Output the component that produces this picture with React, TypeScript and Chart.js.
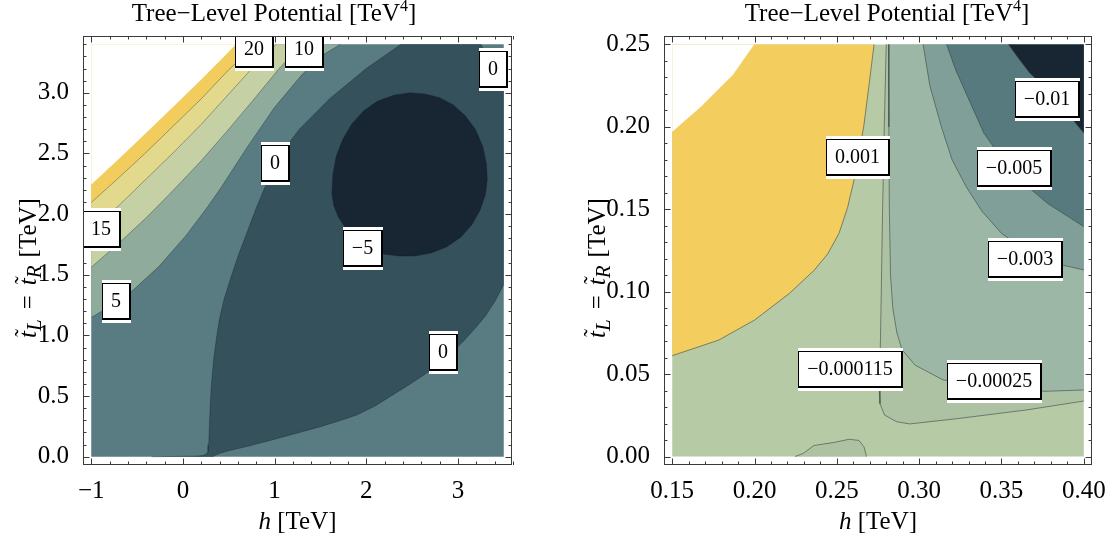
import React, { useEffect, useRef } from 'react';
import { Chart, registerables } from 'chart.js';

Chart.register(...registerables);

type P = [number, number];

const SERIF = '"Liberation Serif", "Times New Roman", serif';

// ---------------- LEFT PANEL DATA (h in TeV, t in TeV) ----------------
const L_X_TICKS = [-1, 0, 1, 2, 3];
const L_X_LABELS = ['\u22121', '0', '1', '2', '3'];
const L_Y_TICKS = [0, 0.5, 1, 1.5, 2, 2.5, 3];
const L_Y_LABELS = ['0.0', '0.5', '1.0', '1.5', '2.0', '2.5', '3.0'];

const L_RECT: P[] = [[-1, 0], [3.5, 0], [3.5, 3.4], [-1, 3.4]];
const L_C25: P[] = [[-1, 2.244], [-0.7, 2.455], [-0.4, 2.67], [-0.1, 2.89], [0.2, 3.11], [0.45, 3.3], [0.578, 3.4]];
const L_C20: P[] = [[-1, 2.095], [-0.7, 2.3], [-0.4, 2.51], [-0.1, 2.73], [0.2, 2.95], [0.5, 3.19], [0.8, 3.4]];
const L_C15: P[] = [[-1, 1.87], [-0.7, 2.07], [-0.4, 2.29], [-0.1, 2.51], [0.2, 2.74], [0.5, 2.99], [0.8, 3.24], [1.02, 3.4]];
const L_C10: P[] = [[-1, 1.562], [-0.7, 1.76], [-0.4, 1.97], [-0.1, 2.2], [0.2, 2.44], [0.5, 2.7], [0.8, 2.97], [1.05, 3.2], [1.3, 3.4]];
const L_C5: P[] = [[-1, 1.147], [-0.62, 1.32], [-0.26, 1.57], [0.03, 1.82], [0.25, 2.04], [0.4, 2.2], [0.7, 2.55], [1.0, 2.88], [1.3, 3.15], [1.5, 3.3], [1.72, 3.4]];
const L_C0_UPPER: P[] = [[2.38, 3.4], [2.0, 3.2], [1.6, 2.95], [1.27, 2.7], [1.12, 2.55], [1.01, 2.41], [0.9, 2.23], [0.8, 2.05], [0.7, 1.85], [0.6, 1.65], [0.52, 1.47], [0.45, 1.3], [0.4, 1.14], [0.37, 1.0], [0.335, 0.8], [0.312, 0.6], [0.298, 0.42], [0.289, 0.25], [0.282, 0.1], [0.274, 0.045], [0.257, 0.022], [0.22, 0.011], [0.15, 0.005], [-0.34, 0]];
const L_C0_LOWER: P[] = [[0.32, 0], [0.4, 0.028], [0.5, 0.05], [0.727, 0.09], [0.98, 0.14], [1.27, 0.2], [1.508, 0.25], [1.7, 0.295], [1.898, 0.345], [2.1, 0.42], [2.289, 0.51], [2.48, 0.6], [2.68, 0.7], [2.88, 0.82], [3.07, 0.96], [3.2, 1.07], [3.3, 1.16], [3.41, 1.29], [3.5, 1.42]];
const L_C0_CORNER: P[] = [[3.5, 3.02], [3.42, 3.15], [3.33, 3.28], [3.25, 3.4]];
const L_CM5: P[] = [[1.625, 2.17], [1.635, 2.32], [1.67, 2.47], [1.74, 2.61], [1.84, 2.74], [1.97, 2.85], [2.12, 2.93], [2.3, 2.98], [2.48, 3.0], [2.64, 2.99], [2.8, 2.96], [2.95, 2.9], [3.08, 2.81], [3.19, 2.7], [3.27, 2.56], [3.31, 2.42], [3.32, 2.29], [3.3, 2.16], [3.24, 2.03], [3.15, 1.91], [3.03, 1.81], [2.88, 1.73], [2.71, 1.68], [2.53, 1.655], [2.36, 1.655], [2.2, 1.67], [2.05, 1.71], [1.91, 1.78], [1.79, 1.87], [1.7, 1.97], [1.645, 2.07]];

const L_LABEL_TEXT = ['20', '10', '0', '0', '15', '\u22125', '5', '0'];
const L_LABEL_X = [0.78, 1.32, 3.38, 1.008, -0.895, 1.957, -0.727, 2.84];
const L_LABEL_Y = [3.36, 3.36, 3.2, 2.42, 1.88, 1.72, 1.281, 0.861];

// ---------------- RIGHT PANEL DATA ----------------
const R_X_TICKS = [0.15, 0.2, 0.25, 0.3, 0.35, 0.4];
const R_X_LABELS = ['0.15', '0.20', '0.25', '0.30', '0.35', '0.40'];
const R_Y_TICKS = [0, 0.05, 0.1, 0.15, 0.2, 0.25];
const R_Y_LABELS = ['0.00', '0.05', '0.10', '0.15', '0.20', '0.25'];

const R_RECT: P[] = [[0.15, 0], [0.4, 0], [0.4, 0.25], [0.15, 0.25]];
const R_WHITE: P[] = [[0.15, 0.197], [0.1676, 0.2124], [0.1869, 0.2316], [0.1935, 0.241], [0.1998, 0.25]];
const R_P001: P[] = [[0.15, 0.0612], [0.1783, 0.0707], [0.2, 0.0828], [0.2212, 0.099], [0.2363, 0.1131], [0.2445, 0.123], [0.2513, 0.1354], [0.2565, 0.151], [0.2605, 0.168], [0.2663, 0.2], [0.2695, 0.225], [0.2726, 0.25]];
const R_M115: P[] = [[0.28, 0.25], [0.2788, 0.2], [0.2778, 0.15], [0.277, 0.1], [0.2763, 0.06], [0.2758, 0.04], [0.2762, 0.032], [0.279, 0.0252], [0.2862, 0.0212], [0.2943, 0.0198], [0.3247, 0.0232], [0.3652, 0.0283], [0.4, 0.0337]];
const R_M25: P[] = [[0.2815, 0.25], [0.2816, 0.2], [0.2819, 0.15], [0.2826, 0.11], [0.284, 0.09], [0.2865, 0.075], [0.2895, 0.065], [0.2975, 0.0555], [0.3145, 0.0465], [0.345, 0.0418], [0.3763, 0.0396], [0.4, 0.0404]];
const R_M3: P[] = [[0.3024, 0.25], [0.3065, 0.225], [0.3135, 0.2], [0.32, 0.18], [0.3285, 0.1638], [0.338, 0.149], [0.35, 0.1354], [0.365, 0.125], [0.3822, 0.1172], [0.4, 0.1132]];
const R_M5: P[] = [[0.3167, 0.25], [0.322, 0.235], [0.3285, 0.2204], [0.3393, 0.1962], [0.3564, 0.1719], [0.3779, 0.1536], [0.4, 0.1395]];
const R_M10: P[] = [[0.3543, 0.25], [0.36, 0.242], [0.3672, 0.2326], [0.3822, 0.2184], [0.392, 0.206], [0.4, 0.1962]];
const R_BUMP: P[] = [[0.2245, 0], [0.2297, 0.002], [0.236, 0.0067], [0.249, 0.0087], [0.2574, 0.0105], [0.2634, 0.0098], [0.2665, 0.0059], [0.268, 0]];

const R_LABEL_TEXT = ['0.001', '\u22120.01', '\u22120.005', '\u22120.003', '\u22120.000115', '\u22120.00025'];
const R_LABEL_X = [0.2627, 0.3777, 0.3575, 0.3644, 0.2577, 0.3453];
const R_LABEL_Y = [0.182, 0.217, 0.175, 0.12, 0.0531, 0.0459];

// ---------------- panel definitions ----------------
interface Fill { pts: P[]; color: string }
interface Panel {
  xMin: number; xMax: number; yMin: number; yMax: number;
  dataX: [number, number]; dataY: [number, number];
  xTicks: number[]; xLabels: string[]; yTicks: number[]; yLabels: string[];
  xMinorStep: number; yMinorStep: number;
  fills: Fill[]; lines: P[][]; lineColor: string;
  labelText: string[]; labelX: number[]; labelY: number[];
  yAxisWidth: number; rightPad: number; yTitleX: number; titleX: number;
}

const LEFT: Panel = {
  xMin: -1.09, xMax: 3.59, yMin: -0.068, yMax: 3.468,
  dataX: [-1, 3.5], dataY: [0, 3.4],
  xTicks: L_X_TICKS, xLabels: L_X_LABELS, yTicks: L_Y_TICKS, yLabels: L_Y_LABELS,
  xMinorStep: 0.2, yMinorStep: 0.1,
  fills: [
    { pts: L_RECT, color: '#587c81' },
    { pts: [...L_C5, [-1, 3.4]], color: '#8eab9c' },
    { pts: [...L_C10, [-1, 3.4]], color: '#c5d1a5' },
    { pts: [...L_C15, [-1, 3.4]], color: '#e3d98d' },
    { pts: [...L_C20, [-1, 3.4]], color: '#f2cd5e' },
    { pts: [...L_C25, [-1, 3.4]], color: '#ffffff' },
    { pts: [...L_C0_UPPER, ...L_C0_LOWER, ...L_C0_CORNER], color: '#34515c' },
    { pts: L_CM5, color: '#182634' },
  ],
  lines: [L_C20, L_C15, L_C10, L_C5, L_C0_UPPER, L_C0_LOWER, L_C0_CORNER, [...L_CM5, L_CM5[0]]],
  lineColor: 'rgba(20,30,30,0.35)',
  labelText: L_LABEL_TEXT, labelX: L_LABEL_X, labelY: L_LABEL_Y,
  yAxisWidth: 83, rightPad: 45, yTitleX: 36, titleX: 274,
};

const RIGHT: Panel = {
  xMin: 0.145, xMax: 0.405, yMin: -0.0051, yMax: 0.2551,
  dataX: [0.15, 0.4], dataY: [0, 0.25],
  xTicks: R_X_TICKS, xLabels: R_X_LABELS, yTicks: R_Y_TICKS, yLabels: R_Y_LABELS,
  xMinorStep: 0.01, yMinorStep: 0.01,
  fills: [
    { pts: R_RECT, color: '#b7caa6' },
    { pts: R_BUMP, color: '#acc2a3' },
    { pts: [...R_M115, [0.4, 0.25]], color: '#acc2a3' },
    { pts: [...R_M25, [0.4, 0.25]], color: '#9db7a6' },
    { pts: [...R_M3, [0.4, 0.25]], color: '#7f9f98' },
    { pts: [...R_M5, [0.4, 0.25]], color: '#577a7e' },
    { pts: [...R_M10, [0.4, 0.25]], color: '#182634' },
    { pts: [...R_P001, [0.15, 0.25]], color: '#f3ce5f' },
    { pts: [...R_WHITE, [0.15, 0.25]], color: '#ffffff' },
  ],
  lines: [R_P001, R_M115, R_M25, R_M3, R_M5, R_M10, R_BUMP],
  lineColor: 'rgba(50,60,60,0.55)',
  labelText: R_LABEL_TEXT, labelX: R_LABEL_X, labelY: R_LABEL_Y,
  yAxisWidth: 107, rightPad: 23, yTitleX: 48, titleX: 330,
};

interface Seg { t: string; font: string; dy?: number; tilde?: boolean; gap?: number }

function drawRich(ctx: CanvasRenderingContext2D, segs: Seg[], x: number, y: number) {
  let w = 0;
  for (const s of segs) { ctx.font = s.font; w += ctx.measureText(s.t).width + (s.gap || 0); }
  let cx = x - w / 2;
  ctx.textAlign = 'left';
  ctx.textBaseline = 'alphabetic';
  ctx.fillStyle = '#000';
  for (const s of segs) {
    ctx.font = s.font;
    const sw = ctx.measureText(s.t).width;
    ctx.fillText(s.t, cx, y + (s.dy || 0));
    if (s.tilde) {
      ctx.font = `23px ${SERIF}`;
      const tw = ctx.measureText('\u02dc').width;
      ctx.fillText('\u02dc', cx + sw / 2 - tw / 2 + 1.5, y - 5);
    }
    cx += sw + (s.gap || 0);
  }
}

function drawLabel(ctx: CanvasRenderingContext2D, text: string, cx: number, cy: number) {
  ctx.font = `20px ${SERIF}`;
  const tw = ctx.measureText(text).width;
  const w = Math.round(tw + 18);
  const h = 36;
  const x0 = Math.round(cx - w / 2);
  const y0 = Math.round(cy - h / 2);
  ctx.fillStyle = '#ffffff';
  ctx.fillRect(x0, y0 - 3, w + 1, h + 7);
  ctx.fillStyle = '#000000';
  ctx.fillRect(x0, y0, w + 1, h + 1);
  ctx.fillStyle = '#ffffff';
  ctx.fillRect(x0 + 1, y0 + 1, w - 2, h - 2);
  ctx.fillStyle = '#000000';
  ctx.textAlign = 'center';
  ctx.textBaseline = 'middle';
  ctx.fillText(text, x0 + w / 2, y0 + h / 2 + 1);
}

function framePlugin(p: Panel) {
  return {
    id: 'frameAndLabels',
    afterDatasetsDraw(chart: any) {
      const { ctx, chartArea: a, scales } = chart;
      const xs = scales.x;
      const ys = scales.y;
      ctx.save();
      ctx.strokeStyle = '#3a3a3a';
      ctx.lineWidth = 1;
      const tickX = (v: number, len: number) => {
        const px = Math.round(xs.getPixelForValue(v)) + 0.5;
        ctx.beginPath();
        ctx.moveTo(px, a.bottom); ctx.lineTo(px, a.bottom - len);
        ctx.moveTo(px, a.top); ctx.lineTo(px, a.top + len);
        ctx.stroke();
      };
      const tickY = (v: number, len: number) => {
        const py = Math.round(ys.getPixelForValue(v)) + 0.5;
        ctx.beginPath();
        ctx.moveTo(a.left, py); ctx.lineTo(a.left + len, py);
        ctx.moveTo(a.right, py); ctx.lineTo(a.right - len, py);
        ctx.stroke();
      };
      const nx = Math.round((p.dataX[1] - p.dataX[0]) / p.xMinorStep);
      for (let i = 0; i <= nx; i++) tickX(p.dataX[0] + i * p.xMinorStep, 3.5);
      const ny = Math.round((p.dataY[1] - p.dataY[0]) / p.yMinorStep);
      for (let i = 0; i <= ny; i++) tickY(p.dataY[0] + i * p.yMinorStep, 3.5);
      p.xTicks.forEach((v) => tickX(v, 6.5));
      p.yTicks.forEach((v) => tickY(v, 6.5));

      ctx.save();
      ctx.beginPath();
      ctx.rect(a.left, a.top, a.right - a.left, a.bottom - a.top);
      ctx.clip();
      p.labelText.forEach((t, i) => {
        drawLabel(ctx, t, xs.getPixelForValue(p.labelX[i]), ys.getPixelForValue(p.labelY[i]));
      });
      ctx.restore();

      ctx.strokeStyle = '#3a3a3a';
      ctx.lineWidth = 1;
      ctx.strokeRect(Math.round(a.left) + 0.5, Math.round(a.top) + 0.5, Math.round(a.right - a.left) - 1, Math.round(a.bottom - a.top) - 1);
      ctx.restore();
    },
    afterDraw(chart: any) {
      const { ctx, chartArea: a } = chart;
      ctx.save();
      const cx = (a.left + a.right) / 2;
      drawRich(ctx, [
        { t: 'Tree\u2212Level Potential [TeV', font: `25px ${SERIF}` },
        { t: '4', font: `16px ${SERIF}`, dy: -10 },
        { t: ']', font: `25px ${SERIF}` },
      ], p.titleX, 21);
      drawRich(ctx, [
        { t: 'h', font: `italic 25px ${SERIF}` },
        { t: ' [TeV]', font: `25px ${SERIF}` },
      ], cx, 529);
      ctx.translate(p.yTitleX, 268);
      ctx.rotate(-Math.PI / 2);
      drawRich(ctx, [
        { t: 't', font: `italic 25px ${SERIF}`, tilde: true },
        { t: 'L', font: `italic 21px ${SERIF}`, dy: 5, gap: 10 },
        { t: '=', font: `25px ${SERIF}`, gap: 10 },
        { t: 't', font: `italic 25px ${SERIF}`, tilde: true },
        { t: 'R', font: `italic 21px ${SERIF}`, dy: 5, gap: 8 },
        { t: '[TeV]', font: `25px ${SERIF}` },
      ], 0, 0);
      ctx.restore();
    },
  };
}

function buildConfig(p: Panel): any {
  const datasets: any[] = [];
  p.fills.forEach((f, i) => {
    datasets.push({
      data: f.pts.map(([x, y]) => ({ x, y })),
      showLine: true,
      fill: 'shape',
      backgroundColor: f.color,
      borderColor: 'rgba(0,0,0,0)',
      borderWidth: 0,
      pointRadius: 0,
      pointHoverRadius: 0,
      tension: 0,
      order: 1000 - i,
    });
  });
  p.lines.forEach((l) => {
    datasets.push({
      data: l.map(([x, y]) => ({ x, y })),
      showLine: true,
      fill: false,
      borderColor: p.lineColor,
      backgroundColor: 'rgba(0,0,0,0)',
      borderWidth: 1,
      pointRadius: 0,
      pointHoverRadius: 0,
      tension: 0,
      order: 1,
    });
  });
  const tickFont = { family: SERIF, size: 25 };
  return {
    type: 'scatter',
    data: { datasets },
    options: {
      animation: false,
      responsive: false,
      events: [],
      layout: { padding: { top: 36, right: p.rightPad, left: 0, bottom: 0 } },
      plugins: { legend: { display: false }, tooltip: { enabled: false }, title: { display: false } },
      scales: {
        x: {
          type: 'linear', min: p.xMin, max: p.xMax,
          grid: { display: false }, border: { display: false },
          afterBuildTicks: (s: any) => { s.ticks = p.xTicks.map((v) => ({ value: v })); },
          afterFit: (s: any) => { s.height = 74; },
          ticks: { autoSkip: false, maxRotation: 0, padding: 3, color: '#000', font: tickFont, callback: (_v: any, i: number) => p.xLabels[i] },
        },
        y: {
          type: 'linear', min: p.yMin, max: p.yMax,
          grid: { display: false }, border: { display: false },
          afterBuildTicks: (s: any) => { s.ticks = p.yTicks.map((v) => ({ value: v })); },
          afterFit: (s: any) => { s.width = p.yAxisWidth; },
          ticks: { autoSkip: false, padding: 6, color: '#000', font: tickFont, callback: (_v: any, i: number) => p.yLabels[i] },
        },
      },
    },
    plugins: [framePlugin(p)],
  };
}

export default function App() {
  const leftRef = useRef<HTMLCanvasElement>(null);
  const rightRef = useRef<HTMLCanvasElement>(null);
  useEffect(() => {
    const c1 = new Chart(leftRef.current as HTMLCanvasElement, buildConfig(LEFT));
    const c2 = new Chart(rightRef.current as HTMLCanvasElement, buildConfig(RIGHT));
    return () => { c1.destroy(); c2.destroy(); };
  }, []);
  return (
    <div style={{ position: 'fixed', left: 0, top: 0, width: 1115, height: 539, background: '#fff' }}>
      <canvas ref={leftRef} width={557} height={539} style={{ position: 'absolute', left: 0, top: 0, width: 557, height: 539 }} />
      <canvas ref={rightRef} width={558} height={539} style={{ position: 'absolute', left: 557, top: 0, width: 558, height: 539 }} />
    </div>
  );
}
